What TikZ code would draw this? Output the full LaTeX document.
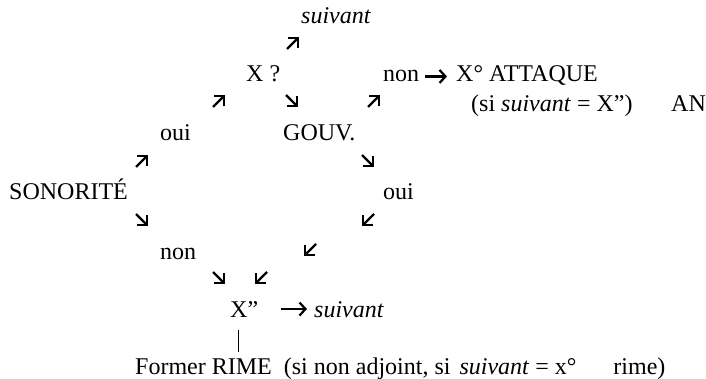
\documentclass[tikz,border=0pt]{standalone}
\usepackage{fontspec}
\setmainfont{Liberation Serif}
\usetikzlibrary{arrows.meta}
\begin{document}
\begin{tikzpicture}[x=1pt,y=-1pt,
  lbl/.style={anchor=base west, inner sep=0pt, font=\fontsize{24}{29}\selectfont},
  garrow/.style={line width=2.2pt, -{Straight Barb[length=7pt,width=14pt,line width=2.2pt]}},
  harrow/.style={line width=2.2pt, -{Straight Barb[length=6pt,width=13pt,line width=2.2pt]}},
  bar/.style={line width=0.7pt}]
\path[use as bounding box] (0,0) rectangle (706,379);
% texts
\node[lbl] (suiv1) at (301,24) {\textit{suivant}};
\node[lbl] (xq) at (246,82) {X ?};
\node[lbl] (non1) at (383,82) {non};
\node[lbl] (att) at (456,82) {X° ATTAQUE};
\node[lbl] (si1) at (471,112) {(si \textit{suivant} = X”)};
\node[lbl] (an) at (671,112) {AN};
\node[lbl] (oui1) at (160,141) {oui};
\node[lbl] (gouv) at (283,141) {GOUV.};
\node[lbl] (son) at (9,200) {SONORITÉ};
\node[lbl] (oui2) at (383,200) {oui};
\node[lbl] (non2) at (160,259) {non};
\node[lbl] (xpp) at (230,317) {X”};
\node[lbl] (suiv2) at (314,317) {\textit{suivant}};
\node[lbl] (former) at (135,374) {Former RIME\hspace{12pt}(si non adjoint, si \hspace{3pt}\textit{suivant} = x°\hspace{37pt}rime)};
% glyph arrows
\coordinate (a1) at (293,43);
\coordinate (a2) at (219,101);
\coordinate (a3) at (292,101);
\coordinate (a4) at (374,101);
\coordinate (a5) at (142,161);
\coordinate (a6) at (368,161);
\coordinate (a7) at (142,220);
\coordinate (a8) at (368,220);
\coordinate (a9) at (310,250);
\coordinate (a10) at (219,278);
\coordinate (a11) at (261,278);
\draw[garrow] (a1) ++(-6,6) -- ++(12,-12);
\draw[garrow] (a2) ++(-6,6) -- ++(12,-12);
\draw[garrow] (a3) ++(-6,-6) -- ++(12,12);
\draw[garrow] (a4) ++(-6,6) -- ++(12,-12);
\draw[garrow] (a5) ++(-6,6) -- ++(12,-12);
\draw[garrow] (a6) ++(-6,-6) -- ++(12,12);
\draw[garrow] (a7) ++(-6,-6) -- ++(12,12);
\draw[garrow] (a8) ++(6,-6) -- ++(-12,12);
\draw[garrow] (a9) ++(6,-6) -- ++(-12,12);
\draw[garrow] (a10) ++(-6,-6) -- ++(12,12);
\draw[garrow] (a11) ++(6,-6) -- ++(-12,12);
% horizontal arrows
\draw[harrow, shorten <=6pt, shorten >=9pt] (non1.east) -- (non1.east -| att.west);
\draw[harrow, shorten <=23pt, shorten >=7pt] (xpp.east) -- (xpp.east -| suiv2.west);
% vertical bar
\coordinate (bt) at (238,330);
\coordinate (bb) at (238,352);
\draw[bar] (bt) -- (bb);
\end{tikzpicture}
\end{document}
